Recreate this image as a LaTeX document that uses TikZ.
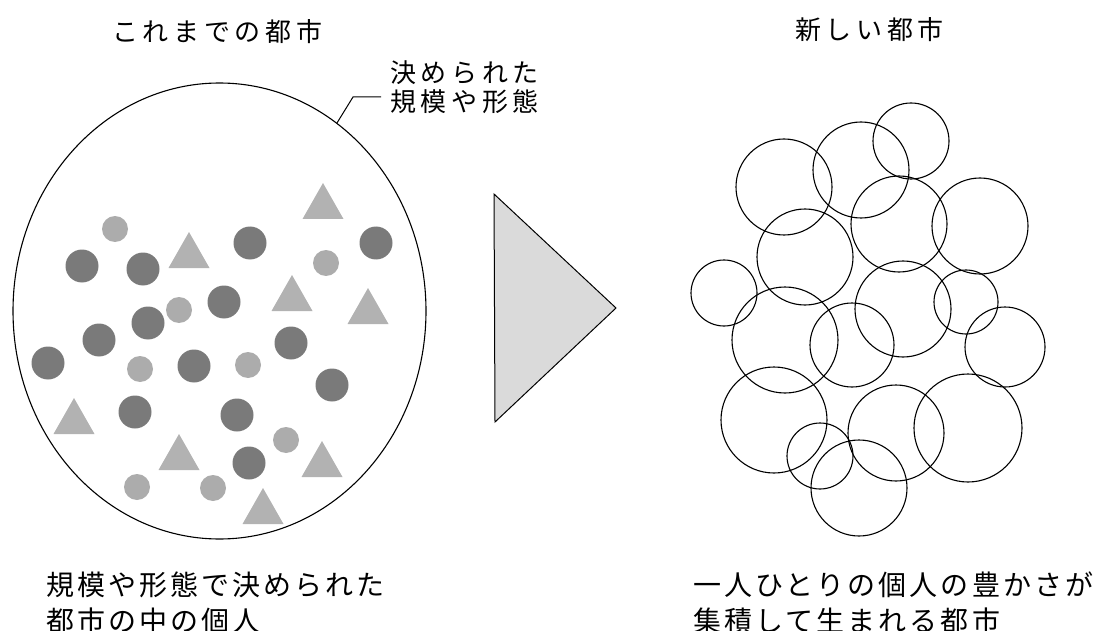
\documentclass[tikz,border=0pt]{standalone}
\usepackage{fontspec}
\newfontfamily\jpa{Noto Sans CJK JP}[LetterSpace=18]
\newfontfamily\jpb{Noto Sans CJK JP}[LetterSpace=11]
\usetikzlibrary{shapes.geometric}
\definecolor{darkdot}{HTML}{7A7A7A}
\definecolor{lightdot}{HTML}{ACACAC}
\definecolor{trigray}{HTML}{B2B2B2}
\definecolor{arrowgray}{HTML}{DADADA}
\tikzset{
  ttl/.style={anchor=base west, inner sep=0pt, font=\jpa\fontsize{26}{30}\selectfont},
  captxt/.style={anchor=base west, inner sep=0pt, font=\jpb\fontsize{28}{36}\selectfont},
  bigell/.style={draw, ellipse, line width=1.1pt, minimum width=413pt, minimum height=456pt, inner sep=0pt},
  leader/.style={line width=1pt},
  dk/.style={fill=darkdot},
  lt/.style={fill=lightdot},
  ring/.style={draw, line width=1.1pt},
  tri/.pic={\fill[trigray] (0,0) -- (20.5,36) -- (-20.5,36) -- cycle;}
}
\begin{document}
\begin{tikzpicture}[x=1pt,y=-1pt]
\useasboundingbox (0,0) rectangle (1100,631);
% titles
\node[ttl] (t1) at (112,42) {これまでの都市};
\node[ttl] (t2) at (795,40) {新しい都市};
% left city
\node[bigell] (city) at (219.5,311) {};
\node[ttl] (lab1) at (390,83) {決められた};
\node[ttl] (lab2) at (390,112) {規模や形態};
\coordinate (lk) at (353,97);
\coordinate (le) at (381,97);
\draw[leader] (city.58) -- (lk) -- (le);
% light dots
\foreach \x/\y in {115/229, 326/263, 179/310, 140/369, 248/365, 286/440, 137/487, 213/488}
  \fill[lt] (\x,\y) circle[radius=13];
% dark dots
\foreach \x/\y in {82/266, 143/269, 250/243, 376/243, 224/302, 148/323, 99/340, 48/363, 194/366, 291/343, 332/385, 135/412, 237/415, 249/463}
  \fill[dk] (\x,\y) circle[radius=16.5];
% triangles
\foreach \x/\y in {323/183, 189/232, 292/275, 368/288, 74/398, 179/434, 322/441, 263/488}
  \pic at (\x,\y) {tri};
% arrow
\filldraw[fill=arrowgray, line width=1pt, line join=miter] (494,194) -- (616,308) -- (495,422) -- cycle;
% right city
\foreach \x/\y/\r in {784/187/48, 861/170/48, 911/141/38, 899/224/48, 980/226/48, 805/257/48, 724/293/33, 903/309/48, 966/302/32, 785/340/53, 852/345/42, 1005/347/40, 774/420/53, 820/456/33, 859/488/48, 896/433/48, 968/428/54}
  \draw[ring] (\x,\y) circle[radius=\r];
% captions
\node[captxt] (c1) at (46,595) {規模や形態で決められた};
\node[captxt] (c2) at (46,631) {都市の中の個人};
\node[captxt] (c3) at (693,595) {一人ひとりの個人の豊かさが};
\node[captxt] (c4) at (693,631) {集積して生まれる都市};
\end{tikzpicture}
\end{document}
